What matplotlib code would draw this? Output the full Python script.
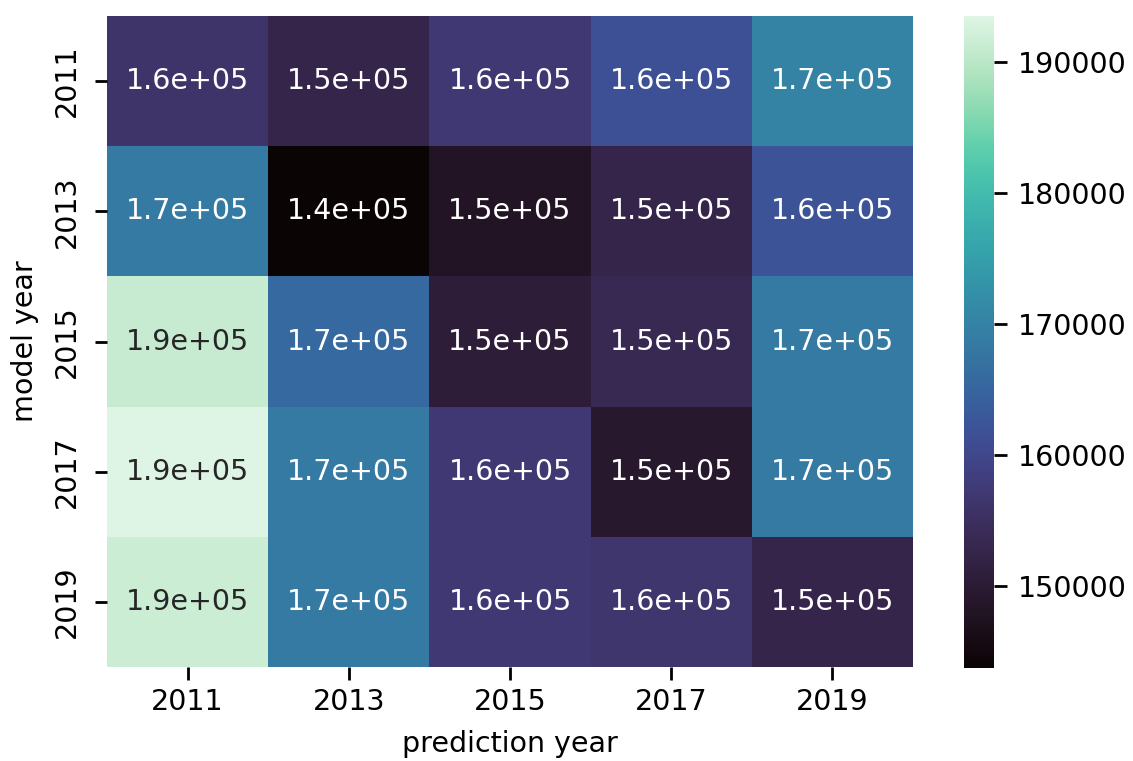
import numpy as np
import pandas as pd
import seaborn as sns
from matplotlib import pyplot as plt

# Mean error per model year (rows) and prediction year (columns)
model_years = ["2011", "2013", "2015", "2017", "2019"]
prediction_years = ["2011", "2013", "2015", "2017", "2019"]
row_2011 = [156000, 152500, 157000, 161500, 170000]
row_2013 = [168500, 143700, 148000, 152500, 162000]
row_2015 = [191000, 165500, 150500, 153500, 168500]
row_2017 = [193500, 168500, 157000, 149000, 168500]
row_2019 = [191500, 168500, 157000, 156500, 152500]

df = pd.DataFrame(
    [row_2011, row_2013, row_2015, row_2017, row_2019],
    index=model_years,
    columns=prediction_years,
)

plt.rcParams["font.size"] = 20.5
plt.rcParams["xtick.major.size"] = 9
plt.rcParams["ytick.major.size"] = 9
plt.rcParams["xtick.major.width"] = 2
plt.rcParams["ytick.major.width"] = 2

fig = plt.figure(figsize=(11.33, 7.61), dpi=100)
ax = fig.add_axes([107 / 1133, 1 - 667 / 761, 806 / 1133, 651 / 761])
cax = fig.add_axes([964 / 1133, 1 - 668 / 761, 30 / 1133, 652 / 761])

sns.heatmap(df, annot=True, cmap="mako", ax=ax, cbar_ax=cax)
ax.set_xlabel("prediction year", labelpad=10)
ax.set_ylabel("model year", labelpad=10)
plt.setp(ax.get_yticklabels(), rotation=90, va="center")
plt.setp(ax.get_xticklabels(), rotation=0)
ax.tick_params(axis="x", pad=6)
ax.tick_params(axis="y", pad=10)
cax.tick_params(pad=8)

fig.savefig("out.png", dpi=100)
